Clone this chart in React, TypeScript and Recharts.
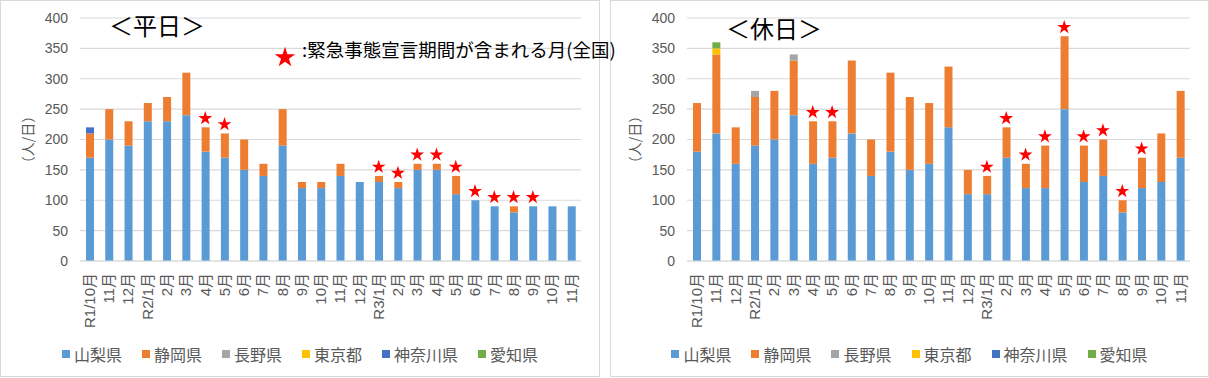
import { ComposedChart, Bar, Line, XAxis, YAxis, CartesianGrid, Legend } from 'recharts';

const months = [
  'R1/10月', '11月', '12月',
  'R2/1月', '2月', '3月', '4月', '5月', '6月', '7月', '8月', '9月', '10月', '11月', '12月',
  'R3/1月', '2月', '3月', '4月', '5月', '6月', '7月', '8月', '9月', '10月', '11月',
];

// 緊急事態宣言期間が含まれる月
const emergency = [0, 0, 0, 0, 0, 0, 1, 1, 0, 0, 0, 0, 0, 0, 0, 1, 1, 1, 1, 1, 1, 1, 1, 1, 0, 0];

// 平日
const wdYamanashi = [170, 200, 190, 230, 230, 240, 180, 170, 150, 140, 190, 120, 120, 140, 130, 130, 120, 150, 150, 110, 100, 90, 80, 90, 90, 90];
const wdShizuoka = [40, 50, 40, 30, 40, 70, 40, 40, 50, 20, 60, 10, 10, 20, 0, 10, 10, 10, 10, 30, 0, 0, 10, 0, 0, 0];
const wdNagano = [0, 0, 0, 0, 0, 0, 0, 0, 0, 0, 0, 0, 0, 0, 0, 0, 0, 0, 0, 0, 0, 0, 0, 0, 0, 0];
const wdTokyo = [0, 0, 0, 0, 0, 0, 0, 0, 0, 0, 0, 0, 0, 0, 0, 0, 0, 0, 0, 0, 0, 0, 0, 0, 0, 0];
const wdKanagawa = [10, 0, 0, 0, 0, 0, 0, 0, 0, 0, 0, 0, 0, 0, 0, 0, 0, 0, 0, 0, 0, 0, 0, 0, 0, 0];
const wdAichi = [0, 0, 0, 0, 0, 0, 0, 0, 0, 0, 0, 0, 0, 0, 0, 0, 0, 0, 0, 0, 0, 0, 0, 0, 0, 0];

// 休日
const hdYamanashi = [180, 210, 160, 190, 200, 240, 160, 170, 210, 140, 180, 150, 160, 220, 110, 110, 170, 120, 120, 250, 130, 140, 80, 120, 130, 170];
const hdShizuoka = [80, 130, 60, 80, 80, 90, 70, 60, 120, 60, 130, 120, 100, 100, 40, 30, 50, 40, 70, 120, 60, 60, 20, 50, 80, 110];
const hdNagano = [0, 0, 0, 10, 0, 10, 0, 0, 0, 0, 0, 0, 0, 0, 0, 0, 0, 0, 0, 0, 0, 0, 0, 0, 0, 0];
const hdTokyo = [0, 10, 0, 0, 0, 0, 0, 0, 0, 0, 0, 0, 0, 0, 0, 0, 0, 0, 0, 0, 0, 0, 0, 0, 0, 0];
const hdKanagawa = [0, 0, 0, 0, 0, 0, 0, 0, 0, 0, 0, 0, 0, 0, 0, 0, 0, 0, 0, 0, 0, 0, 0, 0, 0, 0];
const hdAichi = [0, 10, 0, 0, 0, 0, 0, 0, 0, 0, 0, 0, 0, 0, 0, 0, 0, 0, 0, 0, 0, 0, 0, 0, 0, 0];

const yTicks = [0, 50, 100, 150, 200, 250, 300, 350, 400];

const PREFS = [
  { key: 'yamanashi', name: '山梨県', color: '#5B9BD5' },
  { key: 'shizuoka', name: '静岡県', color: '#ED7D31' },
  { key: 'nagano', name: '長野県', color: '#A5A5A5' },
  { key: 'tokyo', name: '東京都', color: '#FFC000' },
  { key: 'kanagawa', name: '神奈川県', color: '#4472C4' },
  { key: 'aichi', name: '愛知県', color: '#70AD47' },
];

const FONT = "'Liberation Sans', 'Noto Sans CJK JP', sans-serif";
const CJK = "'Noto Sans CJK JP', sans-serif";
const GRAY = '#595959';

function buildRows(series: number[][]) {
  return months.map((month, i) => {
    const row: Record<string, any> = { month };
    let total = 0;
    PREFS.forEach((p, k) => {
      row[p.key] = series[k][i];
      total += series[k][i];
    });
    row.star = emergency[i] ? total : null;
    return row;
  });
}

const weekdayRows = buildRows([wdYamanashi, wdShizuoka, wdNagano, wdTokyo, wdKanagawa, wdAichi]);
const holidayRows = buildRows([hdYamanashi, hdShizuoka, hdNagano, hdTokyo, hdKanagawa, hdAichi]);

function starPath(cx: number, cy: number, r: number) {
  const inner = r * 0.382;
  const pts: string[] = [];
  for (let i = 0; i < 10; i++) {
    const rad = i % 2 === 0 ? r : inner;
    const a = -Math.PI / 2 + (i * Math.PI) / 5;
    pts.push(`${(cx + rad * Math.cos(a)).toFixed(2)},${(cy + rad * Math.sin(a)).toFixed(2)}`);
  }
  return `M${pts.join('L')}Z`;
}

function renderStar(props: any) {
  const { cx, cy, value, index } = props;
  if (value == null || cy == null || isNaN(cy)) return <g key={`s${index}`} />;
  return <path key={`s${index}`} d={starPath(cx, cy - 9, 7.3)} fill="#FF0000" />;
}

function MonthTick({ x, y, payload }: any) {
  return (
    <text x={x} y={y} transform={`rotate(-90, ${x}, ${y})`} textAnchor="end" dy="0.35em"
      fontSize={15} fill={GRAY} fontFamily={FONT}>
      {payload.value}
    </text>
  );
}

function UnitLabel(props: any) {
  const vb = props.viewBox;
  const cx = vb.x - 2;
  const cy = vb.y + vb.height / 2;
  return (
    <text x={cx} y={cy} transform={`rotate(-90, ${cx}, ${cy})`} textAnchor="middle" dy="0.35em"
      fontSize={14} fill={GRAY} fontFamily={CJK}>
      （人/日）
    </text>
  );
}

function LegendContent({ payload }: any) {
  const items = PREFS.map((p) => (payload || []).find((e: any) => e.dataKey === p.key)).filter(Boolean);
  return (
    <div style={{ display: 'flex', justifyContent: 'center', gap: 20, fontFamily: CJK, lineHeight: '20px' }}>
      {items.map((p: any) => (
        <div key={p.value} style={{ display: 'flex', alignItems: 'center' }}>
          <span style={{ width: 8, height: 8, background: p.color, marginRight: 4, display: 'inline-block' }} />
          <span style={{ fontSize: 16, color: GRAY }}>{p.value}</span>
        </div>
      ))}
    </div>
  );
}

function StackChart({ rows, width, marginLeft }: { rows: any[]; width: number; marginLeft: number }) {
  return (
    <ComposedChart width={width} height={377} data={rows}
      margin={{ top: 18, right: 19, left: marginLeft, bottom: 26 }} style={{ fontFamily: FONT }}>
      <CartesianGrid vertical={false} stroke="#d9d9d9" strokeWidth={1.2} />
      <XAxis dataKey="month" interval={0} height={90} tick={<MonthTick />} tickLine={false} tickSize={0} tickMargin={12}
        axisLine={{ stroke: '#d9d9d9', strokeWidth: 1.2 }} />
      <YAxis domain={[0, 400]} ticks={yTicks} width={50} axisLine={false} tickLine={false} tickSize={0} tickMargin={12}
        tick={{ fontSize: 14, fill: GRAY }} label={<UnitLabel />} />
      {PREFS.map((p) => (
        <Bar key={p.key} dataKey={p.key} name={p.name} stackId="a" fill={p.color} barSize={8} isAnimationActive={false} />
      ))}
      <Line dataKey="star" stroke="none" dot={renderStar} activeDot={false} legendType="none" isAnimationActive={false} />
      <Legend verticalAlign="middle" align="center" content={<LegendContent />}
        wrapperStyle={{ top: 344, left: 0, width }} />
    </ComposedChart>
  );
}

const panelBox = (left: number, width: number): React.CSSProperties => ({
  position: 'absolute', left, top: 0, width, height: 377, border: '1px solid #d9d9d9', boxSizing: 'border-box', background: '#fff',
});

const centered = (x: number, y: number, size: number): React.CSSProperties => ({
  position: 'absolute', left: x, top: y, transform: 'translate(-50%, -50%)', fontSize: size, lineHeight: 1,
  fontFamily: CJK, color: '#000', whiteSpace: 'nowrap',
});

export default function App() {
  return (
    <div style={{ position: 'absolute', left: 0, top: 0, width: 1209, height: 378, background: '#fff' }}>
      <div style={panelBox(0, 600)}>
        <div style={{ position: 'absolute', left: -1, top: -1 }}>
          <StackChart rows={weekdayRows} width={600} marginLeft={30} />
        </div>
      </div>
      <div style={panelBox(610, 599)}>
        <div style={{ position: 'absolute', left: -1, top: -1 }}>
          <StackChart rows={holidayRows} width={599} marginLeft={27} />
        </div>
      </div>
      <div style={centered(157, 25, 24)}>＜平日＞</div>
      <div style={centered(774, 28, 24)}>＜休日＞</div>
      <svg style={{ position: 'absolute', left: 270, top: 42 }} width={30} height={30}>
        <path d={starPath(15, 15.5, 10.8)} fill="#FF0000" />
      </svg>
      <div style={{ position: 'absolute', left: 302, top: 38, fontSize: 18.5, lineHeight: '22px', fontFamily: CJK, color: '#000', whiteSpace: 'nowrap' }}>
        :緊急事態宣言期間が含まれる月(全国)
      </div>
    </div>
  );
}
